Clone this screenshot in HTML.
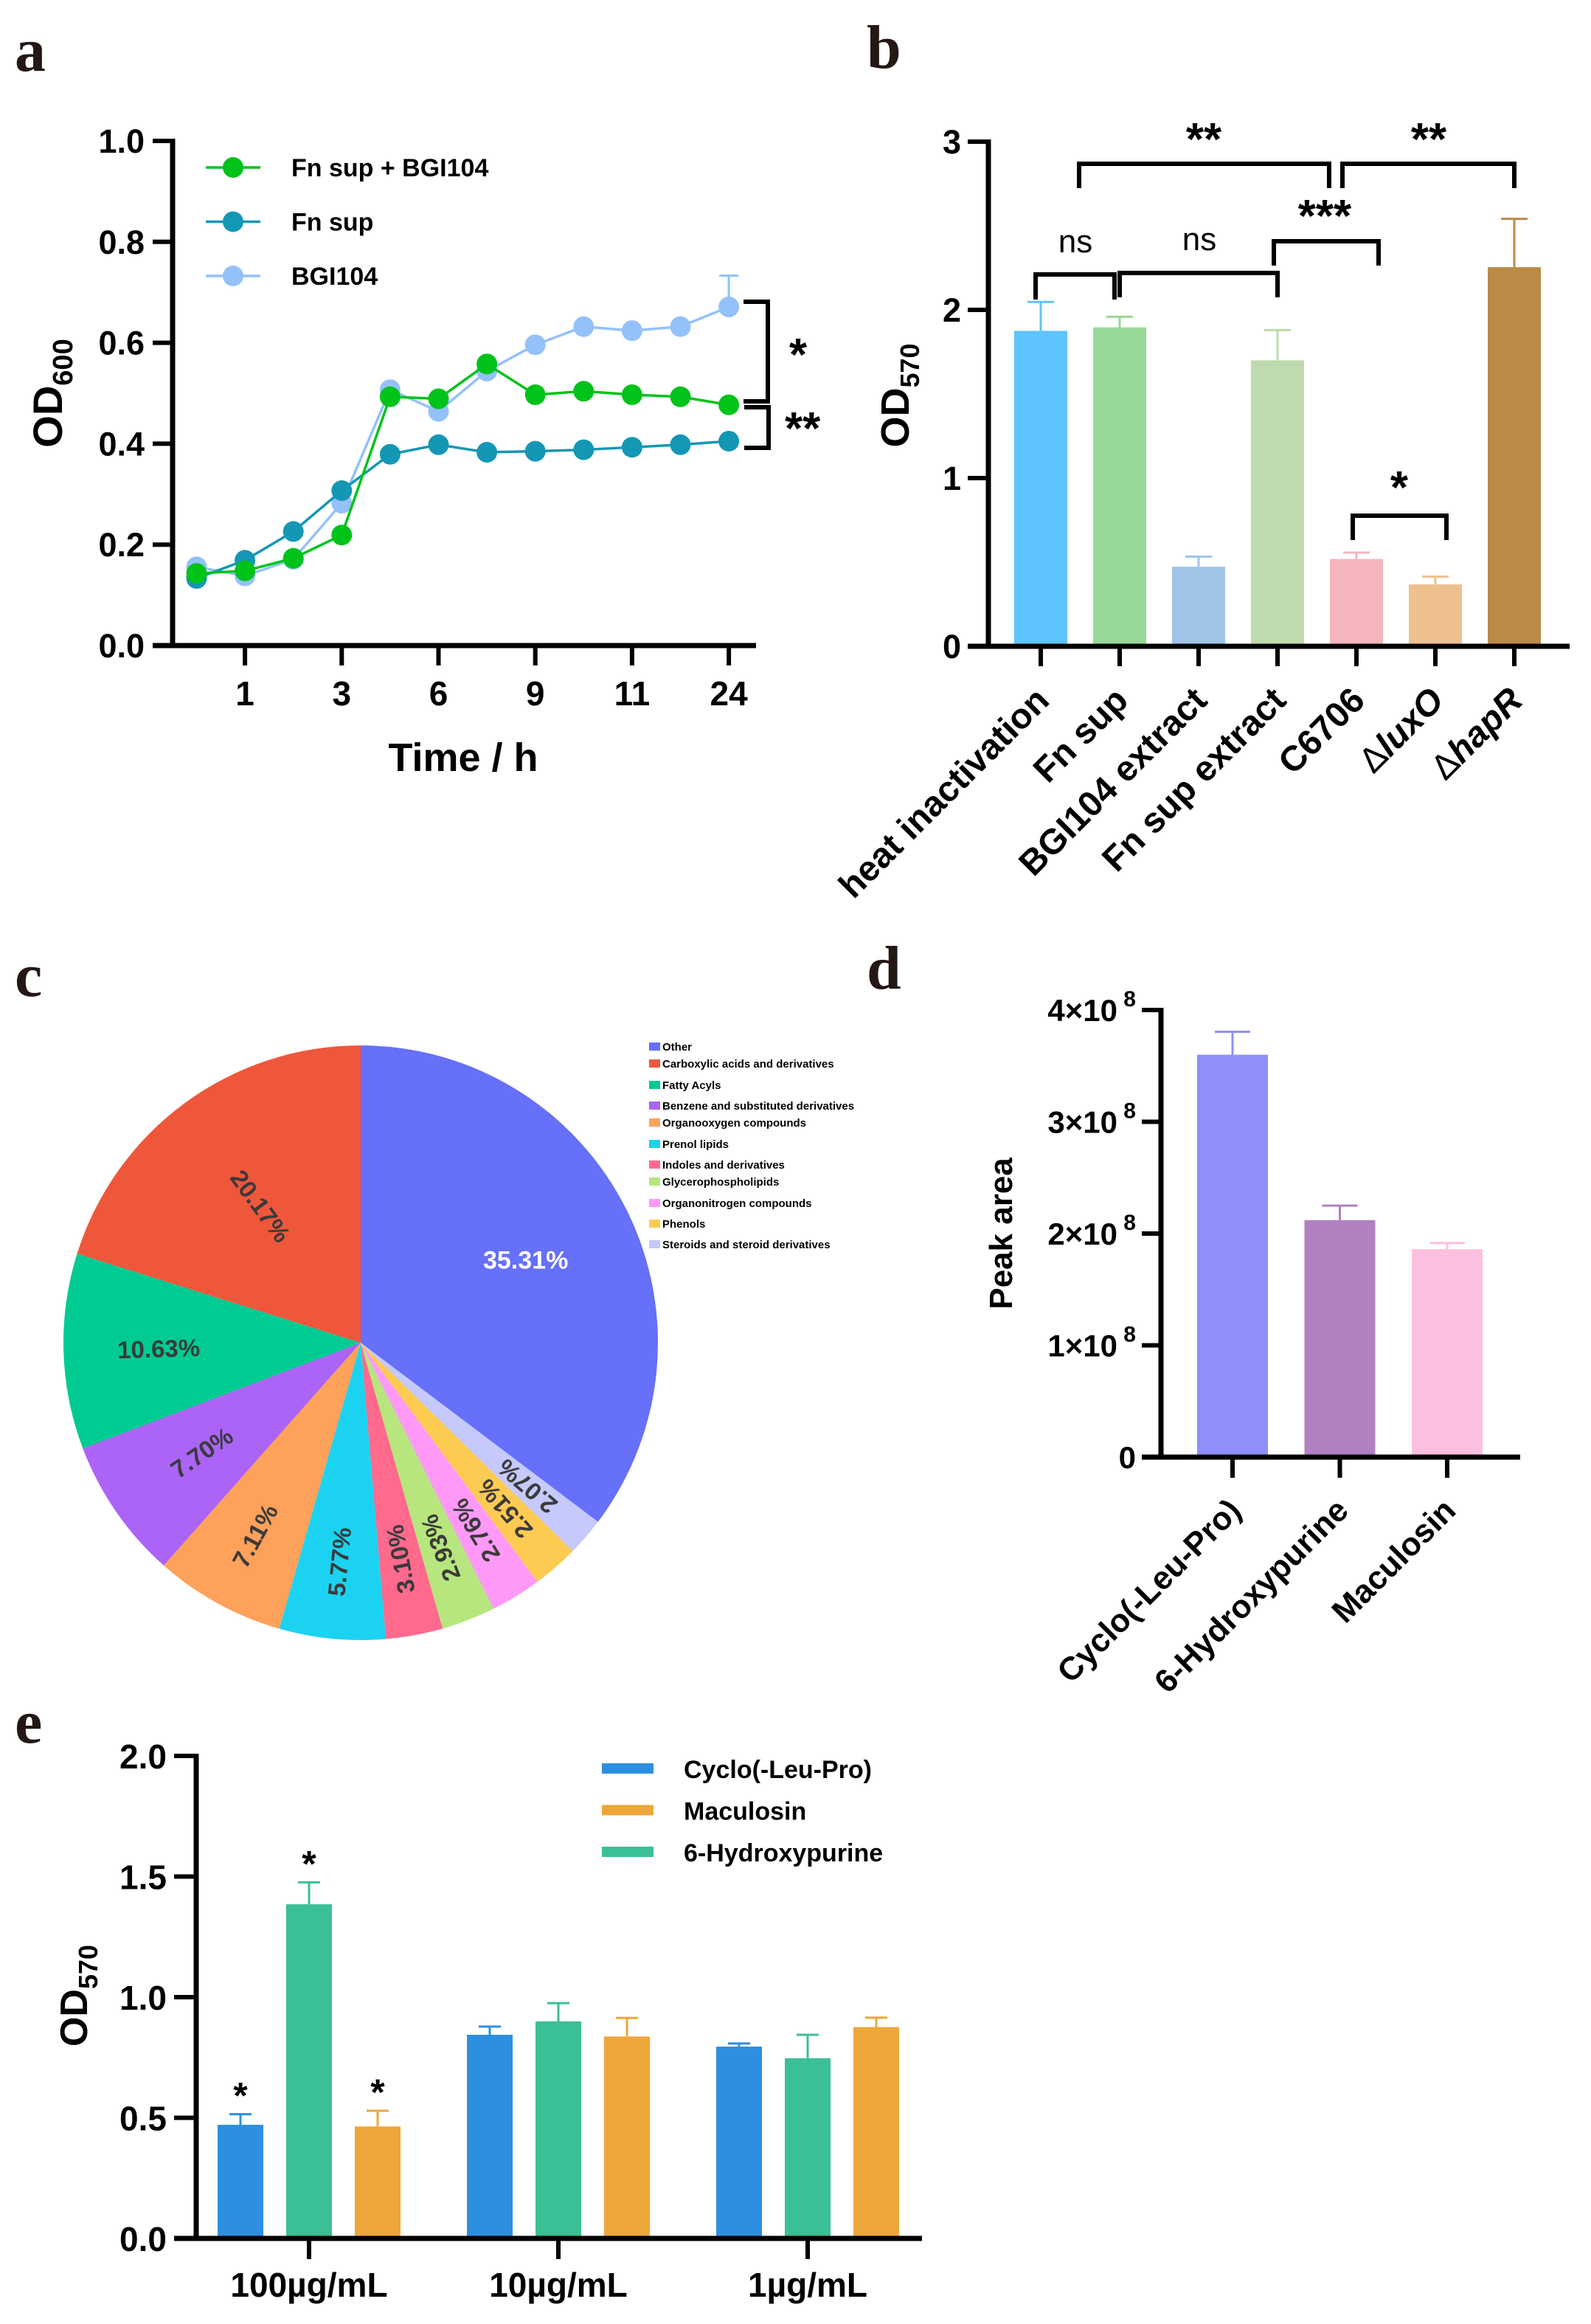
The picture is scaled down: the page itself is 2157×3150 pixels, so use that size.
<!DOCTYPE html>
<html><head><meta charset="utf-8"><style>
html,body{margin:0;padding:0;background:#fff;}
svg{display:block;font-family:"Liberation Sans",Arial,sans-serif;}
</style></head><body>
<svg id="fig" xmlns="http://www.w3.org/2000/svg" width="2157" height="3150" viewBox="0 0 2157 3150">
<g font-family="Liberation Serif, serif" font-weight="bold" font-size="84" fill="#231815">
<text x="20" y="96">a</text>
<text x="1175" y="92">b</text>
<text x="20" y="1350">c</text>
<text x="1175" y="1340">d</text>
<text x="20" y="2362">e</text>
</g>
<g id="pa"></g>
<g id="pb"></g>
<g id="pc"></g>
<g id="pd"></g>
<g id="pe"></g>
</svg>
<script>
// ===== Panel a data =====
const aXLabels=['','1','','3','','6','','9','','11','','24'];
const aGreen=[0.143,0.148,0.173,0.219,0.493,0.489,0.558,0.497,0.504,0.497,0.493,0.477];
const aTeal=[0.133,0.169,0.226,0.307,0.379,0.398,0.383,0.385,0.388,0.393,0.398,0.405];
const aBlue=[0.156,0.138,0.171,0.282,0.507,0.464,0.544,0.596,0.632,0.624,0.632,0.671];
const aBlueErr=[0,0,0,0,0,0,0,0,0,0,0,0.062];
const aYTicks=[0,0.2,0.4,0.6,0.8,1.0];
const aSeriesNames=['Fn sup + BGI104','Fn sup','BGI104'];
// ===== Panel b data =====
const bCats=['heat inactivation','Fn sup','BGI104 extract','Fn sup extract','C6706','\u0394luxO','\u0394hapR'];
const bVals=[1.875,1.896,0.473,1.70,0.519,0.368,2.254];
const bErr=[0.172,0.063,0.060,0.18,0.038,0.046,0.287];
const bYTicks=[0,1,2,3];
// ===== Panel c data =====
const cNames=['Other','Carboxylic acids and derivatives','Fatty Acyls','Benzene and substituted derivatives','Organooxygen compounds','Prenol lipids','Indoles and derivatives','Glycerophospholipids','Organonitrogen compounds','Phenols','Steroids and steroid derivatives'];
const cVals=[35.31,20.17,10.63,7.70,7.11,5.77,3.10,2.93,2.76,2.51,2.07];
// ===== Panel d data =====
const dCats=['Cyclo(-Leu-Pro)','6-Hydroxypurine','Maculosin'];
const dVals=[3.60,2.12,1.86];
const dErr=[0.205,0.13,0.055];
const dYTicks=[0,1,2,3,4];
// ===== Panel e data =====
const eGroups=['100\u00b5g/mL','10\u00b5g/mL','1\u00b5g/mL'];
const eSeries=['Cyclo(-Leu-Pro)','6-Hydroxypurine','Maculosin'];
const eCyclo=[0.471,0.844,0.795];
const eHydroxy=[1.385,0.900,0.747];
const eMaculosin=[0.464,0.837,0.876];
const eCycloErr=[0.044,0.034,0.013];
const eHydroxyErr=[0.091,0.075,0.097];
const eMaculosinErr=[0.065,0.077,0.039];
const eStars=[['*','*','*'],['','',''],['','','']];
const eYTicks=[0,0.5,1.0,1.5,2.0];

const NS='http://www.w3.org/2000/svg';
function mk(tag,attrs,parent){const e=document.createElementNS(NS,tag);for(const k in attrs)e.setAttribute(k,attrs[k]);parent.appendChild(e);return e;}
function txt(s,attrs,parent){const e=mk('text',attrs,parent);e.textContent=s;return e;}

// ---------- Panel a ----------
(function(){
const g=document.getElementById('pa');
const ax=i=>266.5+65.6*i, ay=v=>875-684*v;
const colors=['#00c31a','#1497b4','#94c1fa'];
const data=[aGreen,aTeal,aBlue];
let el;
el=mk('line',{x1:234,y1:ay(1)-3,x2:234,y2:878,stroke:'#000','stroke-width':7},g);


el=mk('line',{x1:207,y1:875,x2:1025,y2:875,stroke:'#000','stroke-width':7},g);


aYTicks.forEach(v=>{
 el=mk('line',{x1:207,y1:ay(v),x2:234,y2:ay(v),stroke:'#000','stroke-width':6},g);
 
 
 el=txt(v.toFixed(1),{x:196,y:ay(v)+16,'text-anchor':'end','font-size':45,'font-weight':'bold'},g);
 
 
});
aXLabels.forEach((l,i)=>{
 if(!l)return;
 el=mk('line',{x1:ax(i),y1:875,x2:ax(i),y2:902,stroke:'#000','stroke-width':6},g);
 
 
 el=txt(l,{x:ax(i),y:956,'text-anchor':'middle','font-size':46,'font-weight':'bold'},g);
 
 
});
el=txt('Time / h',{x:628,y:1045,'text-anchor':'middle','font-size':54,'font-weight':'bold'},g);


el=mk('text',{transform:'translate(84,533) rotate(-90)','text-anchor':'middle','font-size':56,'font-weight':'bold'},g);
el.innerHTML='OD<tspan font-size="38" dy="14">600</tspan>';


aBlueErr.forEach((e,i)=>{
 if(!e)return;
 el=mk('path',{d:`M${ax(i)},${ay(aBlue[i])} V${ay(aBlue[i]+e)} M${ax(i)-13},${ay(aBlue[i]+e)} H${ax(i)+13}`,stroke:colors[2],'stroke-width':3,fill:'none'},g);
 
 
});
[2,1,0].forEach(s=>{
 const d=data[s].map((v,i)=>(i?'L':'M')+ax(i)+','+ay(v)).join(' ');
 el=mk('path',{d:d,stroke:colors[s],'stroke-width':3.5,fill:'none'},g);
 
 
 data[s].forEach((v,i)=>{
  el=mk('circle',{cx:ax(i),cy:ay(v),r:14,fill:colors[s]},g);
  
  
 });
});
aSeriesNames.forEach((n,k)=>{
 const y=227+73.5*k;
 el=mk('line',{x1:279,y1:y,x2:353,y2:y,stroke:colors[k],'stroke-width':3.5},g);
 
 
 el=mk('circle',{cx:316,cy:y,r:14,fill:colors[k]},g);
 
 
 el=txt(n,{x:395,y:y+12,'font-size':34,'font-weight':'bold'},g);
 
 
});
el=mk('path',{d:'M1008,409 H1041 V544 H1008',stroke:'#000','stroke-width':6,fill:'none'},g);


el=mk('path',{d:'M1009,552 H1042 V607 H1009',stroke:'#000','stroke-width':6,fill:'none'},g);


el=txt('*',{x:1082,y:502,'text-anchor':'middle','font-size':62,'font-weight':'bold'},g);


el=txt('**',{x:1064,y:602,'font-size':62,'font-weight':'bold'},g);


})();

// ---------- Panel b ----------
(function(){
const g=document.getElementById('pb');
const bx=i=>1411+107*i, by=v=>876-228*v;
const colors=['#5fc3fd','#98d898','#a0c4e8','#bfdaac','#f4b6bc','#eec08f','#bc8a47'];
let el;
bVals.forEach((v,i)=>{
 el=mk('rect',{x:bx(i)-36,y:by(v),width:72,height:by(0)-by(v),fill:colors[i]},g);
 
 
 el=mk('path',{d:`M${bx(i)},${by(v)} V${by(v+bErr[i])} M${bx(i)-18},${by(v+bErr[i])} H${bx(i)+18}`,stroke:colors[i],'stroke-width':3,fill:'none'},g);
 
 
});
el=mk('line',{x1:1340,y1:by(3)-3,x2:1340,y2:879,stroke:'#000','stroke-width':7},g);


el=mk('line',{x1:1312,y1:876,x2:2128,y2:876,stroke:'#000','stroke-width':7},g);


bYTicks.forEach(v=>{
 el=mk('line',{x1:1312,y1:by(v),x2:1340,y2:by(v),stroke:'#000','stroke-width':6},g);
 
 
 el=txt(String(v),{x:1303,y:by(v)+16,'text-anchor':'end','font-size':45,'font-weight':'bold'},g);
 
 
});
bCats.forEach((c,i)=>{
 el=mk('line',{x1:bx(i),y1:876,x2:bx(i),y2:903,stroke:'#000','stroke-width':6},g);
 
 
 const isMut=c[0]==='\u0394';
 el=mk('text',{transform:`translate(${bx(i)+14},${952}) rotate(-45)`,'text-anchor':'end','font-size':48,'font-weight':'bold'},g);
 if(isMut){el.innerHTML='<tspan font-weight="normal">\u0394</tspan><tspan font-style="italic">'+c.slice(1)+'</tspan>';}
 else el.textContent=c;
 
 
});
el=mk('text',{transform:'translate(1232,536) rotate(-90)','text-anchor':'middle','font-size':54,'font-weight':'bold'},g);
el.innerHTML='OD<tspan font-size="36" dy="14">570</tspan>';


const br=[[1463,1802,222,255,'**',1632,210],[1820,2053,222,255,'**',1937,210],[1727,1869,327,360,'***',1796,314],[1404,1511,372,406,'ns',1458,342],[1518,1732,370,403,'ns',1626,339],[1834,1961,699,732,'*',1897,682]];
br.forEach((b,k)=>{
 el=mk('path',{d:`M${b[0]},${b[3]} V${b[2]} H${b[1]} V${b[3]}`,stroke:'#000','stroke-width':6,fill:'none'},g);
 
 
 const ns=b[4]==='ns';
 el=txt(b[4],{x:b[5],y:b[6],'text-anchor':'middle','font-size':ns?44:62,'font-weight':ns?'normal':'bold'},g);
 
 
});
})();

// ---------- Panel c ----------
(function(){
const g=document.getElementById('pc');
const cx=489,cy=1820,r=403;
const colors=['#6670f8','#ef573b','#00cb92','#ab64f5','#fea15a','#1bd3f1','#ff6a8d','#b6e67d','#ff99f8','#fecb52','#c6c9fb'];
const total=cVals.reduce((a,b)=>a+b,0);
const order=[0,10,9,8,7,6,5,4,3,2,1];
let ang=0, el;
const pt=(a,rr)=>[cx+rr*Math.sin(a),cy-rr*Math.cos(a)];
order.forEach(idx=>{
 const sweep=cVals[idx]/total*2*Math.PI;
 const a0=ang,a1=ang+sweep;
 const p0=pt(a0,r),p1=pt(a1,r);
 el=mk('path',{d:`M${cx},${cy} L${p0[0]},${p0[1]} A${r},${r} 0 ${sweep>Math.PI?1:0} 1 ${p1[0]},${p1[1]} Z`,fill:colors[idx]},g);
 
 
 const mid=(a0+a1)/2;
 const pct=cVals[idx];
 const lr=pct>30?0.62:pct>15?0.57:pct>9?0.68:pct>7.5?0.65:0.74;
 const lp=pt(mid,r*lr);
 let rot;
 if(idx===0) rot=0; else rot=Math.atan2(Math.cos(mid),-Math.sin(mid))*180/Math.PI;
 el=txt(pct.toFixed(2)+'%',{transform:`translate(${lp[0]},${lp[1]}) rotate(${rot})`,'text-anchor':'middle','dominant-baseline':'central','font-size':idx===0?34:33,'font-weight':'bold',fill:idx===0?'#fff':'#3a3a3a'},g);
 
 
 ang=a1;
});
const ly=[1419,1442,1471,1499,1522,1551,1579,1602,1631,1659,1687];
cNames.forEach((n,i)=>{
 el=mk('rect',{x:880,y:ly[i]-6,width:15,height:11,fill:colors[i]},g);
 
 
 el=txt(n,{x:898,y:ly[i]+5,'font-size':15,'font-weight':'bold'},g);
 
 
});
})();

// ---------- Panel d ----------
(function(){
const g=document.getElementById('pd');
const dx=i=>1671+145.5*i, dy=v=>1975-151.5*v;
const colors=['#8f8ffc','#b080c0','#fdbfdf'];
let el;
dVals.forEach((v,i)=>{
 el=mk('rect',{x:dx(i)-48,y:dy(v),width:96,height:dy(0)-dy(v),fill:colors[i]},g);
 
 
 el=mk('path',{d:`M${dx(i)},${dy(v)} V${dy(v+dErr[i])} M${dx(i)-24},${dy(v+dErr[i])} H${dx(i)+24}`,stroke:colors[i],'stroke-width':3,fill:'none'},g);
 
 
});
el=mk('line',{x1:1574,y1:dy(4)-3,x2:1574,y2:1978,stroke:'#000','stroke-width':7},g);


el=mk('line',{x1:1548,y1:1975,x2:2061,y2:1975,stroke:'#000','stroke-width':7},g);


dYTicks.forEach(v=>{
 el=mk('line',{x1:1548,y1:dy(v),x2:1574,y2:dy(v),stroke:'#000','stroke-width':6},g);
 
 
 el=mk('text',{x:1540,y:dy(v)+15,'text-anchor':'end','font-size':42,'font-weight':'bold'},g);
 if(v===0) el.textContent='0';
 else el.innerHTML=v+'\u00d710<tspan font-size="30" dy="-20"> 8</tspan>';
 
 
});
dCats.forEach((c,i)=>{
 el=mk('line',{x1:dx(i),y1:1975,x2:dx(i),y2:2003,stroke:'#000','stroke-width':6},g);
 
 
 el=txt(c,{transform:`translate(${dx(i)+14},${2050}) rotate(-45)`,'text-anchor':'end','font-size':44,'font-weight':'bold'},g);
 
 
});
el=txt('Peak area',{transform:'translate(1372,1672) rotate(-90)','text-anchor':'middle','font-size':44,'font-weight':'bold'},g);


})();

// ---------- Panel e ----------
(function(){
const g=document.getElementById('pe');
const gx=k=>419+338*k, ey=v=>3034-327*v;
const colors=['#2d8fe0','#3bbf97','#eea63a'];
const vals=[eCyclo,eHydroxy,eMaculosin], errs=[eCycloErr,eHydroxyErr,eMaculosinErr];
const off=[-93,0,93];
let el;
eGroups.forEach((gr,k)=>{
 [0,1,2].forEach(s=>{
  const x=gx(k)+off[s], v=vals[s][k], e=errs[s][k];
  el=mk('rect',{x:x-31,y:ey(v),width:62,height:ey(0)-ey(v),fill:colors[s]},g);
  
  
  el=mk('path',{d:`M${x},${ey(v)} V${ey(v+e)} M${x-15},${ey(v+e)} H${x+15}`,stroke:colors[s],'stroke-width':3,fill:'none'},g);
  
  
  if(eStars[k][s]){
   el=txt(eStars[k][s],{x:x,y:ey(v+e)-8,'text-anchor':'middle','font-size':50,'font-weight':'bold'},g);
   
   
  }
 });
 el=mk('line',{x1:gx(k),y1:3034,x2:gx(k),y2:3062,stroke:'#000','stroke-width':6},g);
 
 
 el=txt(gr,{x:gx(k),y:3113,'text-anchor':'middle','font-size':46,'font-weight':'bold'},g);
 
 
});
el=mk('line',{x1:266,y1:ey(2)-3,x2:266,y2:3037,stroke:'#000','stroke-width':7},g);


el=mk('line',{x1:236,y1:3034,x2:1250,y2:3034,stroke:'#000','stroke-width':7},g);


eYTicks.forEach(v=>{
 el=mk('line',{x1:236,y1:ey(v),x2:266,y2:ey(v),stroke:'#000','stroke-width':6},g);
 
 
 el=txt(v.toFixed(1),{x:226,y:ey(v)+17,'text-anchor':'end','font-size':46,'font-weight':'bold'},g);
 
 
});
el=mk('text',{transform:'translate(118,2705) rotate(-90)','text-anchor':'middle','font-size':52,'font-weight':'bold'},g);
el.innerHTML='OD<tspan font-size="36" dy="14">570</tspan>';


const legOrder=[0,2,1];
legOrder.forEach((s,j)=>{
 const y=2397+56.5*j;
 el=mk('rect',{x:816,y:y-7,width:70,height:14,fill:colors[s]},g);
 
 
 el=txt(eSeries[s],{x:927,y:y+13,'font-size':34,'font-weight':'bold'},g);
 
 
});
})();
</script>
</body></html>
